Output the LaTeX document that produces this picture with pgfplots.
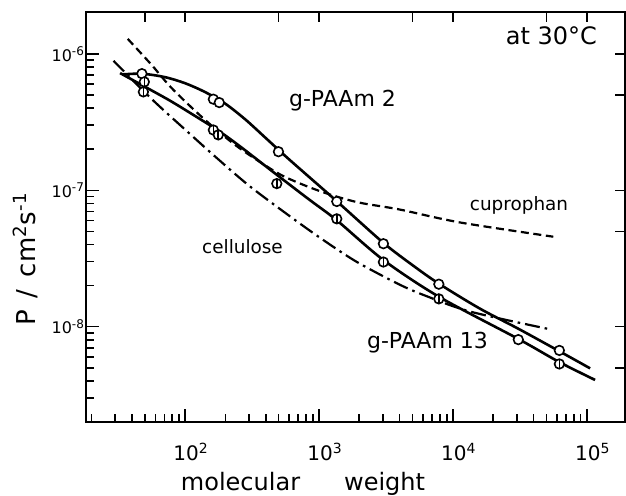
\documentclass[border=0pt]{standalone}
\usepackage{fontspec}
\setmainfont{DejaVu Sans}
\usepackage{pgfplots}
\pgfplotsset{compat=1.18}

\pgfdeclareplotmark{vcirc}{%
  \pgfpathcircle{\pgfpointorigin}{\pgfplotmarksize}%
  \pgfusepathqfillstroke
  \pgfpathmoveto{\pgfpoint{0pt}{-\pgfplotmarksize}}%
  \pgfpathlineto{\pgfpoint{0pt}{\pgfplotmarksize}}%
  \pgfusepathqstroke}

\begin{document}
\begin{tikzpicture}
\begin{axis}[
  at={(0pt,0pt)}, anchor=south west,
  xmode=log, ymode=log,
  scale only axis, width=269.5pt, height=205pt,
  xmin=18.2, xmax=1.93e5, ymin=2e-9, ymax=2.03e-6,
  axis line style={line width=0.9pt},
  tick pos=left,
  tick style={line width=0.8pt, black},
  major tick length=6.5pt, minor tick length=4pt,
  xtick={100,1000,10000,100000},
  xticklabels={10\textsuperscript{2},10\textsuperscript{3},10\textsuperscript{4},10\textsuperscript{5}},
  minor xtick={20,30,40,50,60,70,80,90,200,300,400,500,600,700,800,900,2000,3000,4000,5000,6000,7000,8000,9000,20000,30000,40000,50000,60000,70000,80000,90000},
  ytick={1e-8,1e-7,1e-6},
  yticklabels={10\textsuperscript{-8},10\textsuperscript{-7},10\textsuperscript{-6}},
  minor ytick={3e-9,4e-9,5e-9,6e-9,7e-9,8e-9,9e-9,2e-8,3e-8,4e-8,5e-8,6e-8,7e-8,8e-8,9e-8,2e-7,3e-7,4e-7,5e-7,6e-7,7e-7,8e-7,9e-7},
  xticklabel style={font=\fontsize{10}{12}\selectfont, yshift=-7pt, xshift=3pt},
  yticklabel style={font=\fontsize{8}{10}\selectfont, xshift=3pt},
  clip=false,
]
% g-PAAm 2 (upper solid)
\addplot[black, line width=1.3pt, smooth] coordinates {
 (33.9,7.08e-7) (47.9,7.16e-7) (70.8,6.76e-7) (100,6.10e-7) (141.3,5.25e-7)
 (199.5,4.32e-7) (281.8,3.31e-7) (398.1,2.43e-7) (562.3,1.78e-7) (794.3,1.32e-7)
 (1358,8.32e-8) (3027,4.12e-8) (5012,2.82e-8) (7852,2.07e-8) (15850,1.36e-8)
 (30830,9.66e-9) (62370,6.61e-9) (105900,4.95e-9)};
% g-PAAm 13 (lower solid)
\addplot[black, line width=1.3pt, smooth] coordinates {
 (32.7,7.24e-7) (47.9,5.89e-7) (79.4,4.47e-7) (141,3.16e-7) (170,2.82e-7)
 (251,2.14e-7) (484,1.30e-7) (851,8.51e-8) (1358,6.03e-8) (3020,3.09e-8)
 (7852,1.66e-8) (30830,8.13e-9) (62370,5.50e-9) (115300,4.07e-9)};
% cuprophan (dashed)
\addplot[black, line width=1.1pt, smooth, dash pattern=on 4pt off 2.3pt] coordinates {
 (37.3,1.29e-6) (56.2,8.32e-7) (79.4,5.62e-7) (136,3.39e-7) (243,2.11e-7)
 (484,1.35e-7) (759,1.10e-7) (1202,9.33e-8) (1995,8.13e-8) (3981,7.24e-8)
 (11220,5.82e-8) (56230,4.57e-8)};
% cellulose (dash-dot)
\addplot[black, line width=1.1pt, smooth, dash pattern=on 7.5pt off 2.5pt on 1.3pt off 2.5pt] coordinates {
 (29.2,8.91e-7) (56.2,4.68e-7) (100,2.79e-7) (178,1.68e-7) (316,1.04e-7)
 (759,5.50e-8) (1349,3.72e-8) (2042,2.88e-8) (3981,2.04e-8) (6310,1.68e-8)
 (13490,1.29e-8) (53700,9.55e-9)};
% open circles
\addplot[only marks, mark=*, mark size=2.4pt, mark options={fill=white, draw=black, line width=0.8pt}] coordinates {
 (47.6,7.17e-7) (162.6,4.66e-7) (180,4.40e-7) (498,1.92e-7) (1358,8.28e-8)
 (3027,4.06e-8) (7855,2.05e-8) (30800,8.04e-9) (62400,6.70e-9)};
% half-striped circles
\addplot[only marks, mark=vcirc, mark size=2.4pt, mark options={fill=white, draw=black, line width=0.8pt}] coordinates {
 (49.6,6.24e-7) (48.8,5.27e-7) (162.6,2.77e-7) (177,2.55e-7) (484,1.12e-7)
 (1358,6.18e-8) (3027,2.98e-8) (7855,1.60e-8) (62400,5.33e-9)};
\end{axis}
\begin{axis}[
  at={(0pt,0pt)}, anchor=south west,
  xmode=log, ymode=log,
  scale only axis, width=269.5pt, height=205pt,
  xmin=18.2, xmax=1.93e5, ymin=2e-9, ymax=2.03e-6,
  axis line style={draw=none},
  tick pos=right,
  tick style={line width=0.8pt, black},
  major tick length=5pt,
  xtick={50,100,500,1000,5000,10000,50000,100000},
  xticklabels={},
  ytick={5e-9,1e-8,5e-8,1e-7,5e-7,1e-6},
  yticklabels={},
  minor tick num=0,
]
\addplot[draw=none] coordinates {(100,1e-7)};
\end{axis}
\node[anchor=base, font=\fontsize{12}{14}\selectfont] at (232.75pt,189pt) {at 30°C};
\node[anchor=base, font=\fontsize{11}{13}\selectfont] at (128.25pt,158pt) {g-PAAm 2};
\node[anchor=base, font=\fontsize{11}{13}\selectfont] at (170.75pt,37pt) {g-PAAm 13};
\node[anchor=base, font=\fontsize{9.2}{11}\selectfont] at (216.5pt,106pt) {cuprophan};
\node[anchor=base, font=\fontsize{9.2}{11}\selectfont] at (78.25pt,84.5pt) {cellulose};
\node[anchor=base, font=\fontsize{12}{14}\selectfont] at (108.5pt,-34pt) {molecular\hspace{22pt}weight};
\node[anchor=base, rotate=90, font=\fontsize{13}{15}\selectfont] at (-25.5pt,81.5pt) {P\hspace{6pt}/\hspace{6pt}cm\textsuperscript{2}s\textsuperscript{-1}};
\pgfresetboundingbox
\path[use as bounding box] (-43pt,-36.5pt) rectangle (270pt,211pt);
\end{tikzpicture}
\end{document}
